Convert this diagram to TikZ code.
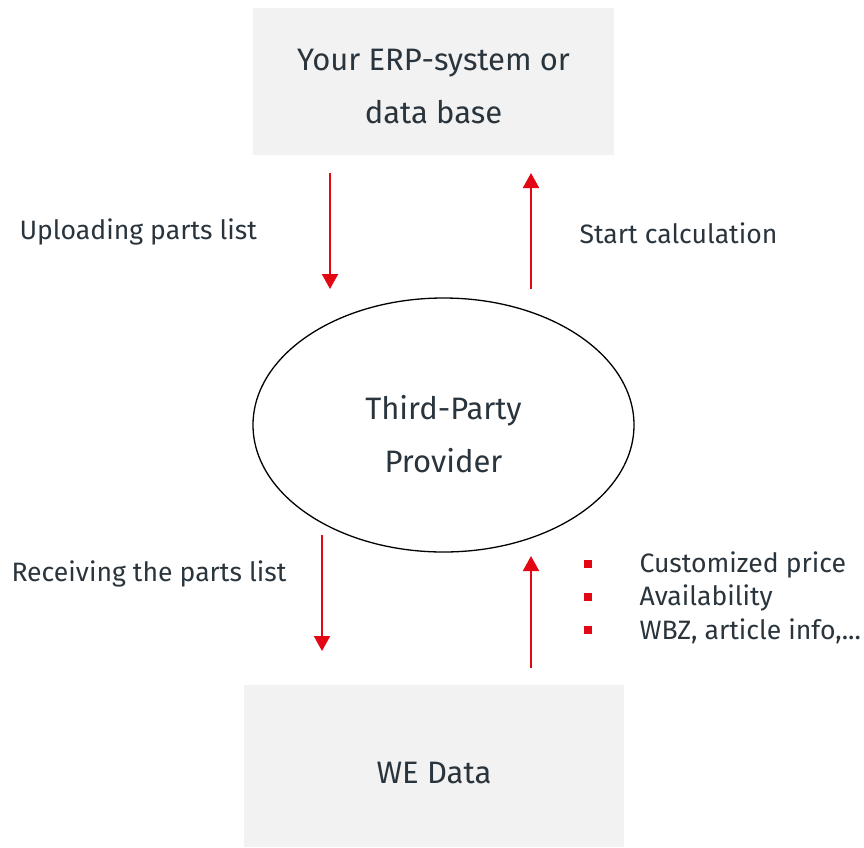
\documentclass[tikz,border=0pt]{standalone}
\usepackage{fontspec}
\setmainfont{Fira Sans}
\usetikzlibrary{shapes.geometric,arrows.meta}
\definecolor{boxgray}{HTML}{F2F2F2}
\definecolor{wered}{HTML}{E30613}
\definecolor{txt}{HTML}{2A343C}
\begin{document}
\begin{tikzpicture}[x=1pt,y=-1pt,
  every node/.style={text=txt},
  flow/.style={draw=wered,line width=2pt,-{Triangle[length=15pt,width=16pt]}},
  boxtext/.style={font=\fontsize{31}{53}\selectfont,align=center},
  lbl/.style={font=\fontsize{26.6}{30}\selectfont,anchor=west},
  bullet/.style={fill=wered,minimum size=8.5pt,inner sep=0pt}]
\useasboundingbox (0,0) rectangle (864,847);
\fill[boxgray] (253,8) rectangle (614,155);
\fill[boxgray] (244,685) rectangle (624,847);
\node[boxtext] (erp) at (433.5,87) {Your ERP-system or\\data base};
\node[boxtext] (we) at (434,773) {WE Data};
\node[draw=black,line width=1.3pt,ellipse,minimum width=381pt,minimum height=254pt,inner sep=0pt] (tpp) at (443.5,425) {};
\node[boxtext] (tpptext) at (443.5,434) {Third-Party\\Provider};
\coordinate (a1s) at (330,173); \coordinate (a1e) at (330,289);
\coordinate (a2s) at (531,289); \coordinate (a2e) at (531,173);
\coordinate (a3s) at (322,535); \coordinate (a3e) at (322,651);
\coordinate (a4s) at (531,668); \coordinate (a4e) at (531,556);
\draw[flow] (a1s) -- (a1e);
\draw[flow] (a2s) -- (a2e);
\draw[flow] (a3s) -- (a3e);
\draw[flow] (a4s) -- (a4e);
\node[lbl] (up) at (16,232) {Uploading parts list};
\node[lbl] (start) at (576,233) {Start calculation};
\node[lbl] (recv) at (8,574) {Receiving the parts list};
\node[bullet] (b1) at (588,564) {};
\node[bullet] (b2) at (588,597) {};
\node[bullet] (b3) at (588,630) {};
\node[lbl] (t1) at (636,565) {Customized price};
\node[lbl] (t2) at (636,598) {Availability};
\node[lbl] (t3) at (636,631) {WBZ, article info,...};
\end{tikzpicture}
\end{document}
